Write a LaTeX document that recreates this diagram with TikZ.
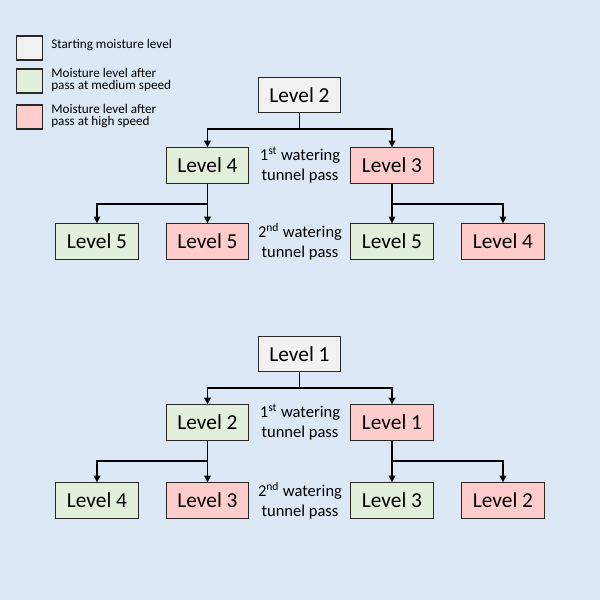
\documentclass[tikz,border=0pt]{standalone}
\usepackage{fontspec}
\setmainfont{Carlito}
\usetikzlibrary{arrows.meta}
\definecolor{bgc}{RGB}{220,232,246}
\definecolor{greyc}{RGB}{242,242,242}
\definecolor{greenc}{RGB}{226,239,218}
\definecolor{pinkc}{RGB}{255,204,204}
\definecolor{edgec}{RGB}{40,40,40}
\tikzset{
  lvl/.style={draw=edgec, line width=0.8pt, minimum width=62pt, minimum height=26.5pt, inner sep=0pt, font=\fontsize{16}{19}\selectfont},
  startbox/.style={lvl, fill=greyc},
  medbox/.style={lvl, fill=greenc},
  highbox/.style={lvl, fill=pinkc},
  legbox/.style={draw=edgec, line width=0.8pt, minimum width=20pt, minimum height=18pt, inner sep=0pt},
  legtext/.style={anchor=west, align=left, inner sep=0pt, font=\fontsize{9.9}{8.4}\selectfont},
  passlbl/.style={align=center, inner sep=0pt, font=\fontsize{12.4}{15}\selectfont},
  conn/.style={line width=1pt, black},
  arr/.style={conn, -{Triangle[width=5pt,length=5pt]}}
}
\begin{document}
\begin{tikzpicture}[x=0.75pt,y=-0.75pt]
\fill[bgc] (0,0) rectangle (600,600);
\useasboundingbox (0,0) rectangle (600,600);
% legend
\node[legbox, fill=greyc] (lg1) at (29.5,48) {};
\node[legbox, fill=greenc] (lg2) at (29.5,81) {};
\node[legbox, fill=pinkc] (lg3) at (29.5,117) {};
\node[legtext] (lt1) at (51,45) {Starting moisture level};
\node[legtext] (lt2) at (51,80) {Moisture level after\\pass at medium speed};
\node[legtext] (lt3) at (51,116) {Moisture level after\\pass at high speed};
% tree 1
\node[startbox] (t1r) at (299.5,95) {Level 2};
\node[medbox] (t1a) at (207.5,165.5) {Level 4};
\node[highbox] (t1b) at (392,165.5) {Level 3};
\node[medbox] (t1aa) at (97,241.5) {Level 5};
\node[highbox] (t1ab) at (207.5,241.5) {Level 5};
\node[medbox] (t1ba) at (392,241.5) {Level 5};
\node[highbox] (t1bb) at (503,241.5) {Level 4};
\node[passlbl] (t1p1) at (300,165) {1\textsuperscript{st} watering\\tunnel pass};
\node[passlbl] (t1p2) at (300,242) {2\textsuperscript{nd} watering\\tunnel pass};
\coordinate (t1j) at (299.5,129);
\coordinate (t1ja) at (207.5,204);
\coordinate (t1jb) at (392,204);
\draw[conn] (t1r.south) -- (t1j);
\draw[arr] (t1j) -| (t1a.north);
\draw[arr] (t1j) -| (t1b.north);
\draw[arr] (t1a.south) -- (t1ab.north);
\draw[arr] (t1ja) -| (t1aa.north);
\draw[arr] (t1b.south) -- (t1ba.north);
\draw[arr] (t1jb) -| (t1bb.north);
% tree 2
\node[startbox] (t2r) at (299.5,354) {Level 1};
\node[medbox] (t2a) at (207.5,422.5) {Level 2};
\node[highbox] (t2b) at (392,422.5) {Level 1};
\node[medbox] (t2aa) at (97,500.5) {Level 4};
\node[highbox] (t2ab) at (207.5,500.5) {Level 3};
\node[medbox] (t2ba) at (392,500.5) {Level 3};
\node[highbox] (t2bb) at (503,500.5) {Level 2};
\node[passlbl] (t2p1) at (300,422) {1\textsuperscript{st} watering\\tunnel pass};
\node[passlbl] (t2p2) at (300,501) {2\textsuperscript{nd} watering\\tunnel pass};
\coordinate (t2j) at (299.5,388);
\coordinate (t2ja) at (207.5,461);
\coordinate (t2jb) at (392,461);
\draw[conn] (t2r.south) -- (t2j);
\draw[arr] (t2j) -| (t2a.north);
\draw[arr] (t2j) -| (t2b.north);
\draw[arr] (t2a.south) -- (t2ab.north);
\draw[arr] (t2ja) -| (t2aa.north);
\draw[arr] (t2b.south) -- (t2ba.north);
\draw[arr] (t2jb) -| (t2bb.north);
\end{tikzpicture}
\end{document}
